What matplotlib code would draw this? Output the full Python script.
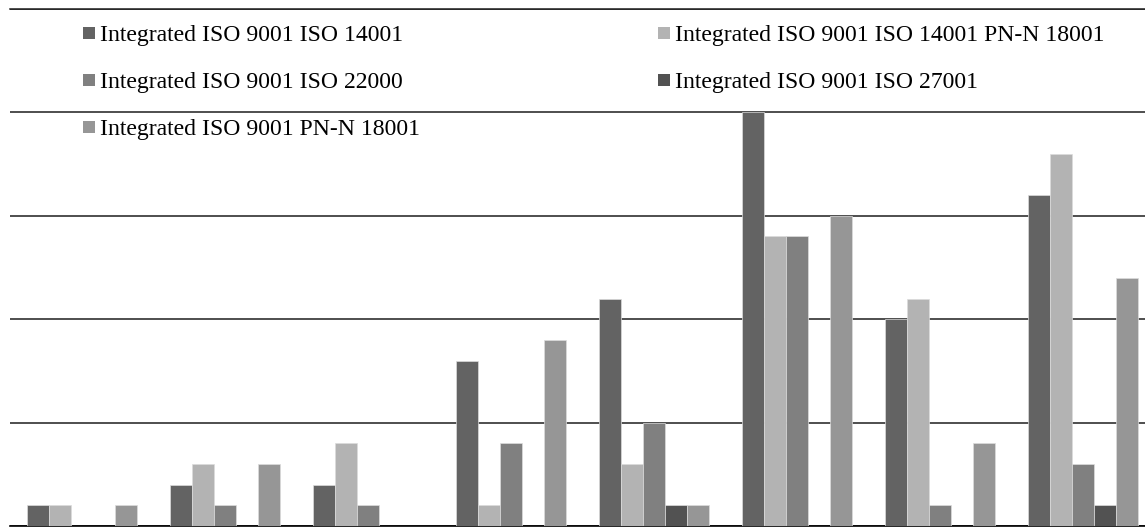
import matplotlib
matplotlib.use("Agg")
import matplotlib.pyplot as plt
import numpy as np
from matplotlib.patches import Rectangle

# Number of integrated management systems per group
groups = [0, 1, 2, 3, 4, 5, 6, 7]
series_names = [
    "Integrated ISO 9001 ISO 14001",
    "Integrated ISO 9001 ISO 14001 PN-N 18001",
    "Integrated ISO 9001 ISO 22000",
    "Integrated ISO 9001 ISO 27001",
    "Integrated ISO 9001 PN-N 18001",
]
iso_14001 = [1, 2, 2, 8, 11, 20, 10, 16]
iso_14001_18001 = [1, 3, 4, 1, 3, 14, 11, 18]
iso_22000 = [0, 1, 1, 4, 5, 14, 1, 3]
iso_27001 = [0, 0, 0, 0, 1, 0, 0, 1]
pnn_18001 = [1, 3, 0, 9, 1, 15, 4, 12]
series_values = [iso_14001, iso_14001_18001, iso_22000, iso_27001, pnn_18001]
colors = ["#636363", "#b3b3b3", "#808080", "#525252", "#969696"]

W, H = 1145, 527
fig = plt.figure(figsize=(W / 100, H / 100), dpi=100)
plt.rcParams["font.family"] = ["Liberation Serif", "DejaVu Serif"]

left_px, right_px, base_px, top_px = 10, 1145, 526, 9
ax = fig.add_axes([left_px / W, (H - base_px) / H,
                   (right_px - left_px) / W, (base_px - top_px) / H])

group_px = 143.0
bar_w = 1 / 6.5
x = np.arange(len(groups))
for k, (vals, col) in enumerate(zip(series_values, colors)):
    ax.bar(x + (k - 2) * bar_w, vals, width=bar_w, color=col,
           edgecolor="#dcdcdc", linewidth=0.5, zorder=3)

ax.set_xlim(-0.5, -0.5 + (right_px - left_px) / group_px)
ax.set_ylim(0, 25)
ax.set_yticks([0, 5, 10, 15, 20, 25])
ax.set_xticks([])
ax.tick_params(axis="y", length=0, labelleft=False)
ax.grid(axis="y", color="#1e1e1e", linewidth=1.1)
ax.set_axisbelow(True)
for s in ["left", "right"]:
    ax.spines[s].set_visible(False)
ax.spines["top"].set_color("#1e1e1e")
ax.spines["top"].set_linewidth(1.1)
ax.spines["bottom"].set_color("black")
ax.spines["bottom"].set_linewidth(1.2)

# Legend entries laid out in two columns, row by row
legend_pos = [(83, 33), (658, 33), (83, 80), (658, 80), (83, 127)]
for (px, py), name, col in zip(legend_pos, series_names, colors):
    fig.patches.append(Rectangle((px / W, (H - py - 6) / H), 12 / W, 12 / H,
                                 transform=fig.transFigure, facecolor=col,
                                 edgecolor="none", zorder=5))
    fig.text((px + 17) / W, (H - py) / H, name, fontsize=17.1,
             va="center_baseline", ha="left", color="black", zorder=6)

fig.savefig("out.png", dpi=100)
